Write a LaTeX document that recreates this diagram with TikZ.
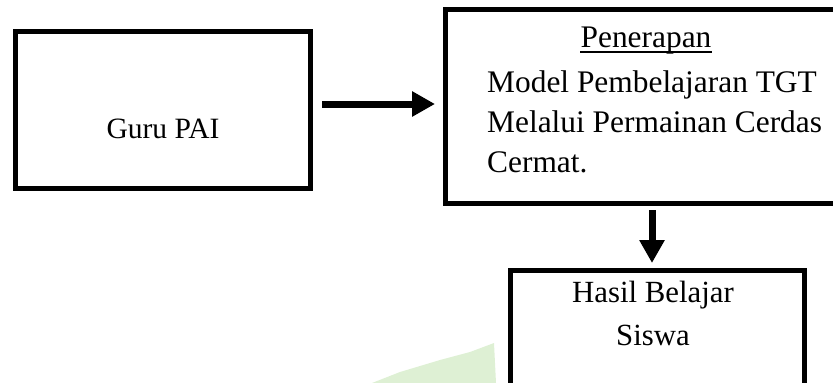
\documentclass[tikz,border=0pt]{standalone}
\usepackage{fontspec}
\setmainfont{Liberation Serif}
\usetikzlibrary{arrows.meta}
\definecolor{markgreen}{RGB}{222,240,212}
\begin{document}
\begin{tikzpicture}[x=1pt,y=-1pt,
  box/.style={draw, line width=5pt, inner sep=0pt, rectangle},
  flow/.style={line width=7pt, -{Triangle[length=23pt,width=24pt]}},
  bigtext/.style={inner sep=0pt, font=\fontsize{31.4}{40}\selectfont}
]
\useasboundingbox (0,0) rectangle (833,383);

% faint watermark patch in the lower middle
\fill[markgreen]
  (372,383) -- (400,372) -- (440,360) -- (470,352) -- (494,343) -- (496,383) -- cycle;

% boxes
\node[box, minimum width=295pt, minimum height=157pt] (guru) at (163,110) {};
\node[box, minimum width=397.5pt, minimum height=194pt] (terapan) at (644.25,106.5) {};
\node[box, minimum width=294pt, minimum height=124.5pt] (hasil) at (657.5,332.75) {};

% texts (multi-line nodes are anchored on the baseline of their last line)
\node[inner sep=0pt, font=\fontsize{29.5}{36}\selectfont, anchor=base] (gurutext) at (163,138) {Guru PAI};
\node[bigtext, anchor=base] (judul) at (646,47) {Penerapan};
\draw[line width=1.3pt] ([yshift=-5pt]judul.base west) -- ([yshift=-5pt]judul.base east);
\node[bigtext, anchor=base west, align=left] (isi) at (487,172)
  {Model Pembelajaran TGT\\Melalui Permainan Cerdas\\Cermat.};
\node[inner sep=0pt, font=\fontsize{30.8}{43}\selectfont, anchor=base, align=center] (hasiltext) at (653,345)
  {Hasil Belajar\\Siswa};

% connectors
\draw[flow] ([xshift=9pt,yshift=6pt]guru.east) -- ([xshift=-8pt,yshift=2.5pt]terapan.west);
\draw[flow, shorten <=4pt, shorten >=5pt]
  ([xshift=-5.5pt]hasil.north |- terapan.south) -- ([xshift=-5.5pt]hasil.north);
\end{tikzpicture}
\end{document}
